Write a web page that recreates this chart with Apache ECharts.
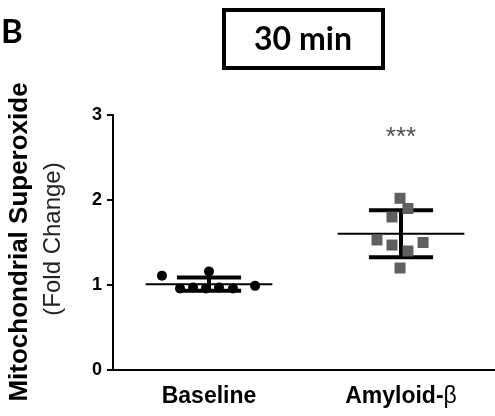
<!DOCTYPE html>
<html>
<head>
<meta charset="utf-8">
<script src="https://cdn.jsdelivr.net/npm/echarts@6/dist/echarts.min.js"></script>
<style>
    html, body { margin: 0; padding: 0; background: #fff; }
    #chart { width: 495px; height: 416px; }
</style>
</head>
<body>
<div id="chart"></div>
<script>
    // values (fold change), one point per sample
    var groups = ["Baseline", "Amyloid-β"];
    var baselineValues = [1.11, 1.16, 0.99, 0.96, 0.97, 0.96, 0.97, 0.96];
    var baselineJitter = [-0.245, 0, 0.24, -0.151, -0.083, -0.016, 0.052, 0.125];
    var amyloidValues = [2.02, 1.90, 1.80, 1.53, 1.47, 1.50, 1.40, 1.20];
    var amyloidJitter = [-0.005, 0.036, -0.047, -0.125, -0.047, 0.115, 0.036, -0.005];
    var yTicks = [0, 1, 2, 3];
    var panelLabel = "B";
    var panelTitle = "30 min";
    var yTitle = "Mitochondrial Superoxide";
    var ySubTitle = "(Fold Change)";
    var sigLabel = "***";

    var font = "'Liberation Sans', Arial, sans-serif";

    function mean(arr) {
        var s = 0;
        arr.forEach(function (v) { s += v; });
        return s / arr.length;
    }
    function sd(arr) {
        var m = mean(arr), s = 0;
        arr.forEach(function (v) { s += (v - m) * (v - m); });
        return Math.sqrt(s / (arr.length - 1));
    }
    function points(values, jitter, pos) {
        return values.map(function (v, i) { return [pos + jitter[i], v]; });
    }

    var stats = [
        [1, mean(baselineValues), sd(baselineValues)],
        [2, mean(amyloidValues), sd(amyloidValues)]
    ];

    var chart = echarts.init(document.getElementById("chart"));
    chart.setOption({
        animation: false,
        backgroundColor: "#fff",
        grid: { left: 113, top: 115, bottom: 46, right: -2, outerBoundsMode: "none" },
        xAxis: [{
            type: "category",
            data: groups,
            boundaryGap: true,
            axisLine: { lineStyle: { color: "#000", width: 2 } },
            axisTick: { alignWithLabel: true, length: 7, lineStyle: { color: "#000", width: 2 } },
            axisLabel: {
                interval: 0,
                hideOverlap: false,
                color: "#000", fontFamily: font, fontWeight: "bold", fontSize: 23, margin: 15,
                formatter: function (v) {
                    // the greek letter is set in a plain weight in the figure
                    return v.indexOf("β") > -1 ? "{a|" + v.replace("β", "}{b|β}") : "{a|" + v + "}";
                },
                rich: {
                    a: { color: "#000", fontFamily: font, fontWeight: "bold", fontSize: 23 },
                    b: { color: "#000", fontFamily: font, fontWeight: "normal", fontSize: 23 }
                }
            },
            splitLine: { show: false }
        }, {
            type: "value",
            min: 0.5,
            max: 2.5,
            show: false
        }],
        yAxis: {
            type: "value",
            min: yTicks[0],
            max: yTicks[yTicks.length - 1],
            interval: 1,
            axisLine: { show: true, lineStyle: { color: "#000", width: 2 } },
            axisTick: { show: true, length: 6, lineStyle: { color: "#000", width: 2 } },
            axisLabel: { color: "#000", fontFamily: font, fontWeight: "bold", fontSize: 18, margin: 11 },
            splitLine: { show: false }
        },
        series: [{
            type: "custom",
            xAxisIndex: 1,
            z: 2,
            data: stats,
            renderItem: function (params, api) {
                var x = api.value(0), m = api.value(1), s = api.value(2);
                var c = api.coord([x, m]);
                var hi = api.coord([x, m + s]);
                var lo = api.coord([x, m - s]);
                var unit = api.size([1, 0])[0];
                var half = unit * 0.33, cap = unit * 0.167;
                var thick = { stroke: "#000", lineWidth: 4 };
                return {
                    type: "group",
                    children: [
                        { type: "line", shape: { x1: c[0] - half, y1: c[1], x2: c[0] + half, y2: c[1] }, style: { stroke: "#000", lineWidth: 2 } },
                        { type: "line", shape: { x1: c[0], y1: hi[1], x2: c[0], y2: lo[1] }, style: thick },
                        { type: "line", shape: { x1: c[0] - cap, y1: hi[1], x2: c[0] + cap, y2: hi[1] }, style: thick },
                        { type: "line", shape: { x1: c[0] - cap, y1: lo[1], x2: c[0] + cap, y2: lo[1] }, style: thick }
                    ]
                };
            }
        }, {
            type: "scatter",
            xAxisIndex: 1,
            z: 3,
            symbol: "circle",
            symbolSize: 10,
            itemStyle: { color: "#000", opacity: 1 },
            data: points(baselineValues, baselineJitter, 1)
        }, {
            type: "scatter",
            xAxisIndex: 1,
            z: 3,
            symbol: "rect",
            symbolSize: 11,
            itemStyle: { color: "#5f5f5f", opacity: 1 },
            data: points(amyloidValues, amyloidJitter, 2)
        }, {
            type: "scatter",
            xAxisIndex: 1,
            symbolSize: 0,
            silent: true,
            data: [[2, 2.73]],
            label: {
                show: true, position: "inside", formatter: sigLabel,
                color: "#222", fontFamily: font, fontSize: 26
            }
        }],
        graphic: [{
            type: "text",
            left: 1, top: 16,
            style: { text: panelLabel, fill: "#000", font: "bold 33px Lato, 'Open Sans', sans-serif" }
        }, {
            type: "rect",
            shape: { x: 224, y: 10, width: 159, height: 58 },
            style: { fill: "#fff", stroke: "#000", lineWidth: 4 }
        }, {
            type: "text",
            x: 303, y: 40,
            style: {
                text: panelTitle, fill: "#000", align: "center", verticalAlign: "middle",
                font: "bold 32px Lato, 'Open Sans', sans-serif"
            }
        }, {
            type: "text",
            x: 20, y: 242,
            rotation: Math.PI / 2,
            style: {
                text: yTitle, fill: "#000", align: "center", verticalAlign: "middle",
                font: "bold 26px " + font
            }
        }, {
            type: "text",
            x: 53, y: 239,
            rotation: Math.PI / 2,
            style: {
                text: ySubTitle, fill: "#222", align: "center", verticalAlign: "middle",
                font: "24px " + font
            }
        }]
    });
</script>
</body>
</html>
